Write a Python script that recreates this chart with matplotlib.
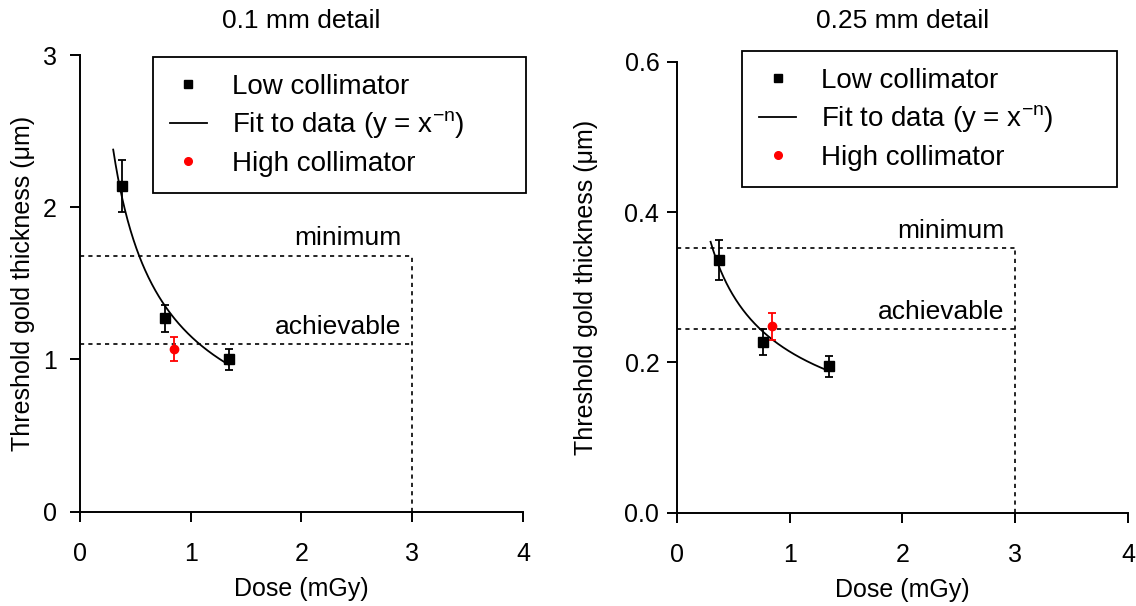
import numpy as np
import matplotlib
matplotlib.use("Agg")
import matplotlib.pyplot as plt
from matplotlib.lines import Line2D

plt.rcParams['font.family'] = ['Liberation Sans', 'DejaVu Sans']

# dose values (mGy)
dose_low = [0.375, 0.765, 1.345]
dose_high = [0.845]
dose_limit = 3.0
fit_range = (0.30, 1.34)

# 0.1 mm detail
thick_01 = [2.14, 1.27, 1.00]
err_01 = [0.17, 0.09, 0.07]
thick_01_high = [1.07]
err_01_high = [0.08]
min_01 = 1.68
ach_01 = 1.10

# 0.25 mm detail
thick_025 = [0.336, 0.227, 0.195]
err_025 = [0.027, 0.017, 0.014]
thick_025_high = [0.248]
err_025_high = [0.018]
min_025 = 0.352
ach_025 = 0.244

titles = ['0.1 mm detail', '0.25 mm detail']
legend_labels = ['Low collimator', 'Fit to data (y = x$^{\\mathregular{-n}}$)', 'High collimator']
xticks = [0, 1, 2, 3, 4]
yticks_01 = [0, 1, 2, 3]
yticks_025 = [0.0, 0.2, 0.4, 0.6]

fig = plt.figure(figsize=(11.36, 6.06), dpi=100)
ax1 = fig.add_axes([0.0704, 0.1556, 0.390, 0.7536])
ax2 = fig.add_axes([0.5957, 0.154, 0.3975, 0.744])


def draw(ax, y, yerr, yh, yerrh, ymin_line, yach_line, yticks, fmt, title,
         leg_box, ypad, ylabelpad):
    # power law fit y = a * x^-n in log-log space
    slope, icpt = np.polyfit(np.log(dose_low), np.log(y), 1)
    xf = np.linspace(fit_range[0], fit_range[1], 200)
    yf = np.exp(icpt) * xf ** slope

    # threshold guide lines
    dots = dict(color='black', lw=1.2, ls=(0, (2.5, 2.5)))
    ax.plot([0, dose_limit], [ymin_line, ymin_line], **dots)
    ax.plot([0, dose_limit], [yach_line, yach_line], **dots)
    ax.plot([dose_limit, dose_limit], [0, ymin_line], **dots)

    ax.errorbar(dose_low, y, yerr=yerr, fmt='s', color='black', ms=6.5,
                elinewidth=1.3, capsize=3.2, capthick=1.3, zorder=4)
    ax.plot(xf, yf, color='black', lw=1.3, zorder=3)
    ax.errorbar(dose_high, yh, yerr=yerrh, fmt='o', color='red', ms=6,
                elinewidth=1.3, capsize=3.2, capthick=1.3, zorder=4)

    off = yticks[-1] * 0.012
    ax.text(2.9, ymin_line + off, 'minimum', ha='right', va='bottom', fontsize=19)
    ax.text(2.9, yach_line + off, 'achievable', ha='right', va='bottom', fontsize=19)

    ax.set_xlim(0, 4)
    ax.set_ylim(yticks[0], yticks[-1])
    ax.set_xticks(xticks)
    ax.set_yticks(yticks)
    ax.set_yticklabels([fmt.format(v) for v in yticks])
    ax.spines['top'].set_visible(False)
    ax.spines['right'].set_visible(False)
    for s in ['left', 'bottom']:
        ax.spines[s].set_linewidth(1.4)
    ax.tick_params(direction='out', length=7.5, width=1.4, labelsize=18)
    ax.tick_params(axis='x', pad=14)
    ax.tick_params(axis='y', pad=ypad)
    ax.set_xlabel('Dose (mGy)', fontsize=18, labelpad=8)
    ax.set_ylabel('Threshold gold thickness (\u03bcm)', fontsize=18, labelpad=ylabelpad)

    # panel title, same height for both panels
    pos = ax.get_position()
    fig.text(pos.x0 + pos.width / 2, 1 - 21 / 606, title, ha='center', va='center', fontsize=19)

    handles = [
        Line2D([], [], ls='none', marker='s', color='black', ms=6),
        Line2D([], [], color='black', lw=1.3),
        Line2D([], [], ls='none', marker='o', color='red', ms=5.5),
    ]
    leg = ax.legend(handles, legend_labels, loc='upper left', bbox_to_anchor=leg_box,
                    mode='expand', fontsize=20, frameon=True, fancybox=False, framealpha=1,
                    edgecolor='black', borderpad=0.6, labelspacing=0.35, handlelength=1.35,
                    handletextpad=0.9, borderaxespad=0)
    leg.get_frame().set_linewidth(1.3)


draw(ax1, thick_01, err_01, thick_01_high, err_01_high, min_01, ach_01,
     yticks_01, '{:.0f}', titles[0], (0.165, 0.0, 0.842, 0.996), 9, 6)
draw(ax2, thick_025, err_025, thick_025_high, err_025_high, min_025, ach_025,
     yticks_025, '{:.1f}', titles[1], (0.145, 0.0, 0.83, 1.024), 5, 19)

fig.savefig('out.png', dpi=100)
